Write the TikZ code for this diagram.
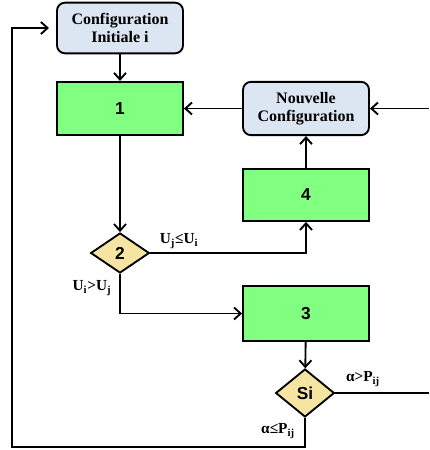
\documentclass[tikz,border=0pt]{standalone}
\usepackage{fontspec}
\setmainfont{Liberation Serif}
\newfontfamily\numfont{Liberation Sans}
\usetikzlibrary{shapes.geometric,arrows.meta}

\definecolor{cfgblue}{HTML}{DCE6F2}
\definecolor{stepgreen}{HTML}{80FF80}
\definecolor{testyellow}{HTML}{F6E4A2}

\tikzset{
  cfgbox/.style={draw, line width=1.4pt, rounded corners=6pt, fill=cfgblue,
    minimum width=94.5pt, minimum height=38pt, align=center,
    font=\fontsize{12}{13.5}\selectfont\bfseries},
  stepbox/.style={draw, line width=1.4pt, fill=stepgreen,
    minimum width=94.5pt, minimum height=40pt,
    font=\numfont\fontsize{13}{14}\selectfont\bfseries},
  testbox/.style={diamond, draw, line width=1.4pt, fill=testyellow, inner sep=0pt,
    minimum width=44pt, minimum height=30pt,
    font=\numfont\fontsize{13}{14}\selectfont\bfseries},
  link/.style={line width=1.4pt, -{Straight Barb[length=5pt,width=9pt]}},
  cond/.style={inner sep=1pt, font=\fontsize{11.5}{12}\selectfont\bfseries}
}

\begin{document}
\begin{tikzpicture}[x=0.75pt, y=-0.75pt]
  \useasboundingbox (0,0) rectangle (429,450);

  % Add boxes
  \node[cfgbox] (cfg) at (120,28) {Configuration\\Initiale i};
  \node[stepbox] (s1) at (120,108.5) {1};
  \node[cfgbox, minimum height=40pt] (nouv) at (306,108.5) {Nouvelle\\Configuration};
  \node[stepbox, minimum height=39pt] (s4) at (306,195) {4};
  \node[stepbox, minimum height=41pt] (s3) at (306,313.5) {3};

  % Add tests
  \node[testbox] (t2) at (120,253) {2};
  \node[testbox, minimum height=36pt] (tsi) at (305,393) {Si};

  % Free ends
  \coordinate (rin) at (429,108.5);
  \coordinate (rout) at (429,393);
  \coordinate (back) at (49,28);
  \coordinate (low) at (12,447);

  % Add links
  \draw[link] (cfg) -- (s1);
  \draw[link] (nouv) -- (s1);
  \draw[link] (rin) -- (nouv);
  \draw[link] (s4) -- (nouv);
  \draw[link] (s1) -- (t2);
  \draw[link] (t2.east) -| (s4.south);
  \draw[link] (t2.south) |- (s3.west);
  \draw[link] (s3) -- (tsi);
  \draw[line width=1.4pt] (tsi.east) -- (rout);
  \draw[link] (tsi.south) |- (low) |- (back);

  % Add conditions
  \node[cond] (c1) at (179,241) {U\textsubscript{j}≤U\textsubscript{i}};
  \node[cond] (c2) at (92,288) {U\textsubscript{i}>U\textsubscript{j}};
  \node[cond] (c3) at (363,379) {α>P\textsubscript{ij}};
  \node[cond] (c4) at (278,431) {α≤P\textsubscript{ij}};

\end{tikzpicture}
\end{document}
